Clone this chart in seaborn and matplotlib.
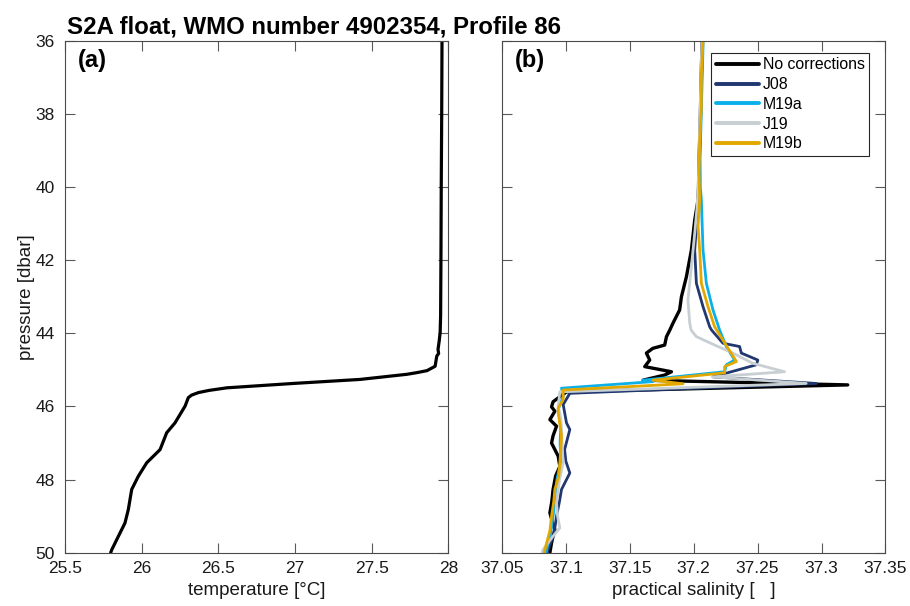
import numpy as np
import pandas as pd
import matplotlib
matplotlib.use("Agg")
import matplotlib.pyplot as plt
import seaborn as sns

# temperature profile, panel (a)
temp_pres = [36.0, 38.0, 40.0, 42.0, 43.5, 43.97, 44.2, 44.44, 44.55, 44.62, 44.9,
             45.02, 45.07, 45.12, 45.26, 45.37, 45.49, 45.56, 45.62, 45.69, 45.76,
             45.99, 46.45, 46.72, 47.18, 47.54, 47.91, 48.27, 48.82, 49.19, 49.46,
             49.92, 50.0]
temp_vals = [27.958, 27.956, 27.953, 27.951, 27.949, 27.946, 27.940, 27.932, 27.936,
             27.924, 27.913, 27.860, 27.800, 27.729, 27.424, 26.989, 26.555, 26.440,
             26.370, 26.325, 26.304, 26.283, 26.217, 26.163, 26.120, 26.033, 25.978,
             25.935, 25.913, 25.891, 25.859, 25.805, 25.798]

# practical salinity, panel (b), one pair of lists per correction
nocorr_pres = [36.0, 36.8, 37.6, 38.4, 39.2, 40.0, 40.35, 40.9, 41.72, 42.45, 43.0,
               43.36, 43.72, 43.91, 44.09, 44.32, 44.41, 44.54, 44.73, 44.91, 45.05,
               45.14, 45.28, 45.41, 45.60, 45.87, 46.01, 46.13, 46.36, 46.54, 46.8,
               47.0, 47.36, 47.64, 47.9, 48.27, 48.6, 48.91, 49.1, 49.37, 49.55,
               49.73, 50.0]
nocorr_sal = [37.2066, 37.2060, 37.2055, 37.2050, 37.2042, 37.2038, 37.2034, 37.2008,
              37.1982, 37.1943, 37.1904, 37.1890, 37.1838, 37.1813, 37.1787, 37.1773,
              37.1680, 37.1630, 37.1656, 37.1617, 37.1826, 37.1773, 37.1604, 37.3205,
              37.1005, 37.0900, 37.0888, 37.0914, 37.0875, 37.0927, 37.0900, 37.0888,
              37.0940, 37.0953, 37.0920, 37.0900, 37.0890, 37.0875, 37.0890, 37.0914,
              37.0900, 37.0888, 37.0875]

j08_pres = [36.0, 36.8, 37.6, 38.4, 39.2, 40.0, 40.5, 41.08, 41.72, 42.63, 43.27,
            43.82, 43.91, 44.27, 44.36, 44.54, 44.73, 44.86, 45.19, 45.37, 45.64,
            45.95, 46.45, 46.63, 47.18, 47.5, 47.82, 48.27, 48.6, 49.0, 49.3, 49.55,
            49.92, 50.0]
j08_sal = [37.2070, 37.2064, 37.2058, 37.2052, 37.2046, 37.2040, 37.2030, 37.2021,
           37.2008, 37.2021, 37.2073, 37.2125, 37.2140, 37.2229, 37.2359, 37.2373,
           37.2502, 37.2490, 37.2151, 37.2959, 37.1031, 37.0979, 37.1005, 37.1031,
           37.0990, 37.1000, 37.1031, 37.0966, 37.0950, 37.0927, 37.0915, 37.0900,
           37.0860, 37.0855]

m19a_pres = [36.0, 36.8, 37.6, 38.4, 39.2, 40.0, 40.35, 41.72, 42.63, 43.36, 43.91,
             44.36, 44.73, 44.86, 45.05, 45.28, 45.32, 45.50, 45.72, 46.08, 46.5,
             47.0, 47.5, 48.0, 48.5, 49.0, 49.5, 49.92, 50.0]
m19a_sal = [37.2074, 37.2068, 37.2062, 37.2056, 37.2050, 37.2052, 37.2060, 37.2073,
            37.2099, 37.2151, 37.2203, 37.2255, 37.2320, 37.2255, 37.2242, 37.1604,
            37.1682, 37.0966, 37.0979, 37.0940, 37.0960, 37.0955, 37.0960, 37.0930,
            37.0915, 37.0900, 37.0880, 37.0850, 37.0845]

j19_pres = [36.0, 36.8, 37.6, 38.4, 39.2, 40.0, 40.6, 41.26, 42.17, 43.09, 43.72,
            43.91, 44.09, 44.36, 44.54, 44.82, 45.05, 45.19, 45.37, 45.60, 45.99,
            46.3, 46.63, 47.0, 47.54, 48.0, 48.64, 49.0, 49.32, 49.55, 49.92, 50.0]
j19_sal = [37.2064, 37.2058, 37.2052, 37.2046, 37.2040, 37.2035, 37.2025, 37.2008,
           37.1982, 37.1955, 37.1969, 37.1980, 37.2021, 37.2190, 37.2307, 37.2463,
           37.2711, 37.2151, 37.2880, 37.0953, 37.0940, 37.0960, 37.0966, 37.0970,
           37.0979, 37.0950, 37.0927, 37.0935, 37.0953, 37.0900, 37.0820, 37.0815]

m19b_pres = [36.0, 36.88, 37.8, 38.71, 39.62, 40.35, 41.08, 41.72, 42.63, 43.27,
             43.82, 44.36, 44.77, 44.91, 45.08, 45.28, 45.38, 45.55, 45.81, 46.04,
             46.17, 46.81, 47.2, 47.54, 47.9, 48.27, 48.6, 49.0, 49.4, 49.73, 49.92,
             50.0]
m19b_sal = [37.2073, 37.2060, 37.2060, 37.2047, 37.2042, 37.2047, 37.2034, 37.2047,
            37.2060, 37.2112, 37.2164, 37.2260, 37.2334, 37.2242, 37.2242, 37.1682,
            37.1916, 37.0979, 37.0979, 37.0940, 37.0940, 37.0966, 37.0960, 37.0953,
            37.0945, 37.0914, 37.0905, 37.0888, 37.0875, 37.0850, 37.0836, 37.0830]

series_names = ["No corrections", "J08", "M19a", "J19", "M19b"]
series_colors = ["#000000", "#20386f", "#0bb0ea", "#c7cfd3", "#e2a800"]
series_pres = [nocorr_pres, j08_pres, m19a_pres, j19_pres, m19b_pres]
series_sal = [nocorr_sal, j08_sal, m19a_sal, j19_sal, m19b_sal]

temp_ticks = [25.5, 26, 26.5, 27, 27.5, 28]
sal_ticks = [37.05, 37.1, 37.15, 37.2, 37.25, 37.3, 37.35]
sal_ticklabels = ["37.05", "37.1", "37.15", "37.2", "37.25", "37.3", "37.35"]
pres_ticks = [36, 38, 40, 42, 44, 46, 48, 50]

sns.set_style("ticks")
plt.rcParams["font.family"] = ["Liberation Sans", "DejaVu Sans"]
plt.rcParams["font.size"] = 12
plt.rcParams["text.color"] = "black"
plt.rcParams["axes.labelcolor"] = "#1a1a1a"

fig = plt.figure(figsize=(9.1, 6.06), dpi=100)
ax0 = fig.add_axes([0.0714, 0.088, 0.4214, 0.8444])
ax1 = fig.add_axes([0.5516, 0.088, 0.4214, 0.8444])

# panel (a): temperature
dft = pd.DataFrame({"temp": temp_vals, "pres": temp_pres})
sns.lineplot(data=dft, x="temp", y="pres", sort=False, estimator=None,
             color="black", lw=2.3, ax=ax0)

# panel (b): salinity with different corrections
frames = []
for name, p, s in zip(series_names, series_pres, series_sal):
    frames.append(pd.DataFrame({"sal": s, "pres": p, "corr": name}))
dfs = pd.concat(frames, ignore_index=True)
sns.lineplot(data=dfs, x="sal", y="pres", hue="corr", hue_order=series_names,
             palette=dict(zip(series_names, series_colors)), sort=False,
             estimator=None, lw=2.0, ax=ax1)
ax1.get_lines()[0].set_linewidth(2.4)

for ax in (ax0, ax1):
    ax.set_ylim(50, 36)
    ax.set_yticks(pres_ticks)
    ax.tick_params(direction="in", top=True, right=True, length=7, width=0.8,
                   color="#5a5a5a", labelcolor="#1a1a1a", labelsize=12.5)
    ax.tick_params(axis="x", pad=6)
    ax.tick_params(axis="y", pad=7.5)
    for sp in ax.spines.values():
        sp.set_visible(True)
        sp.set_color("#4a4a4a")
        sp.set_linewidth(0.8)

ax0.set_xlim(25.5, 28)
ax0.set_xticks(temp_ticks)
ax0.set_xticklabels(["25.5", "26", "26.5", "27", "27.5", "28"])
ax0.set_xlabel("temperature [°C]", fontsize=13.5, labelpad=4)
ax0.set_ylabel("pressure [dbar]", fontsize=13.5, labelpad=0)
ax0.set_yticklabels([str(t) for t in pres_ticks])

ax1.set_xlim(37.05, 37.35)
ax1.set_xticks(sal_ticks)
ax1.set_xticklabels(sal_ticklabels)
ax1.set_xlabel("practical salinity [   ]", fontsize=13.5, labelpad=4)
ax1.set_ylabel("")
ax1.tick_params(axis="y", labelleft=False)

ax0.text(0.034, 0.985, "(a)", transform=ax0.transAxes, ha="left", va="top",
         fontsize=17, fontweight="bold")
ax1.text(0.034, 0.985, "(b)", transform=ax1.transAxes, ha="left", va="top",
         fontsize=17, fontweight="bold")

leg = ax1.legend(loc="upper right", bbox_to_anchor=(0.958, 0.977),
                 borderaxespad=0, fontsize=11.4, handlelength=2.7,
                 handletextpad=0.25, labelspacing=0.3, borderpad=0.3,
                 fancybox=False, framealpha=1, edgecolor="#262626")
leg.get_frame().set_linewidth(0.8)
for h in leg.get_lines():
    h.set_linewidth(2.8)

fig.text(0.0736, 0.9455, "S2A float, WMO number 4902354, Profile 86",
         ha="left", va="baseline", fontsize=17.3, fontweight="bold")

fig.savefig("out.png", dpi=100)
